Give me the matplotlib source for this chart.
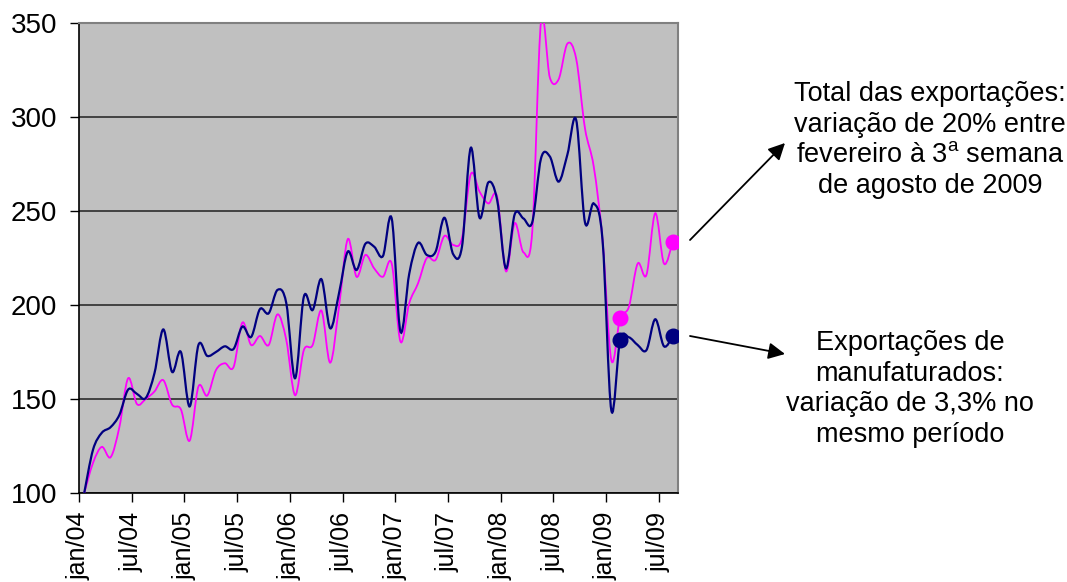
import matplotlib
matplotlib.use("Agg")
import matplotlib.pyplot as plt
import numpy as np
from matplotlib.path import Path
from matplotlib.patches import PathPatch

plt.rcParams["font.family"] = ["Liberation Sans", "DejaVu Sans"]
plt.rcParams["mathtext.fontset"] = "custom"
plt.rcParams["mathtext.rm"] = "Liberation Sans"

# monthly index from jan/04 (0) to aug/09 (67)
months = list(range(68))

manufaturados = [
    100, 123, 132, 135, 141.5, 155, 152.7, 150.5, 163.8, 187, 164.4, 175,
    146, 178.7, 172.9, 175, 178, 176.6, 188.5, 183, 197.8, 195.6, 208, 201,
    161, 204.4, 197.3, 213.7, 187.6, 206.2, 228.4, 218.6, 232.5, 231, 226, 246,
    185.8, 216.7, 233, 226.6, 228.4, 246.4, 227, 231, 283.6, 246.4, 265.2, 255.9,
    219.5, 248.2, 246, 244, 278, 279, 265.6, 280, 298.4, 244, 254, 234.6,
    144, 181.4, 182.8, 178.7, 176, 192.4, 178, 183.5,
]
total = [
    100, 116, 124.5, 119, 135, 161, 147.3, 150, 154, 160, 147, 144.5,
    127.8, 156.6, 151.8, 165.4, 169, 167, 190.6, 178.7, 183.5, 178.7, 195, 181.4,
    152, 176, 178.7, 197, 169.3, 199, 235, 215, 226.6, 219.5, 215, 222,
    180.5, 201, 211.5, 225, 224, 236.7, 231.9, 235.5, 269.5, 260.3, 254, 257.6,
    218, 243.5, 228, 239, 351, 321, 320, 339, 331, 294, 273.6, 234.6,
    170.7, 193, 199, 222, 216, 248.8, 222, 233.7,
]
marked = [61, 67]  # feb/09 and 3rd week of aug/09

tick_pos = list(range(0, 67, 6))
tick_labels = ["jan/04", "jul/04", "jan/05", "jul/05", "jan/06", "jul/06",
               "jan/07", "jul/07", "jan/08", "jul/08", "jan/09", "jul/09"]

x_offset = 0.6  # points sit a bit after the month tick


def smooth_path(xs, ys):
    # Excel-style smoothed line: cubic Bezier through every point
    p = np.column_stack([xs, ys]).astype(float)
    ext = np.vstack([p[0], p, p[-1]])
    verts = [p[0]]
    codes = [Path.MOVETO]
    for i in range(len(p) - 1):
        c1 = ext[i + 1] + (ext[i + 2] - ext[i]) / 6
        c2 = ext[i + 2] - (ext[i + 3] - ext[i + 1]) / 6
        verts += [c1, c2, p[i + 1]]
        codes += [Path.CURVE4] * 3
    return Path(verts, codes)


fig = plt.figure(figsize=(10.67, 5.82), dpi=100)
ax = fig.add_axes([0.074, 0.153, 0.5615, 0.8075])
ax.set_facecolor("#C0C0C0")

xs = np.array(months) + x_offset
for series, color, lw in [(total, "#FF00FF", 1.3), (manufaturados, "#000080", 1.6)]:
    ax.add_patch(PathPatch(smooth_path(xs, series), facecolor="none",
                           edgecolor=color, lw=lw, zorder=3))
    ax.plot(xs[marked], np.array(series)[marked], "o", color=color,
            markersize=10.5, zorder=4)

ax.set_xlim(0, 68.2)
ax.set_ylim(100, 350)
ax.set_yticks(range(100, 351, 50))
ax.yaxis.grid(True, color="#202020", lw=1.1)
ax.set_axisbelow(True)
ax.set_xticks(tick_pos)
ax.set_xticklabels(tick_labels, rotation=90, va="top", ha="center")
ax.tick_params(axis="y", labelsize=20, length=6.5, width=1, pad=9, direction="out")
ax.tick_params(axis="x", labelsize=18, length=6.5, width=1, pad=7, direction="out")
for side in ["top", "right"]:
    ax.spines[side].set_color("#808080")
    ax.spines[side].set_linewidth(1.5)
for side in ["left", "bottom"]:
    ax.spines[side].set_color("black")
    ax.spines[side].set_linewidth(1.2)

fig.text(930 / 1067, 1 - 140 / 582,
         "Total das exportações:\nvariação de 20% entre\nfevereiro à 3$^{\\rm a}$ semana\nde agosto de 2009",
         ha="center", va="center", fontsize=19.5, linespacing=1.22)
fig.text(910 / 1067, 1 - 389 / 582,
         "Exportações de\nmanufaturados:\nvariação de 3,3% no\nmesmo período",
         ha="center", va="center", fontsize=19.5, linespacing=1.22)

for start, end in [((690, 240), (785, 143)), ((690, 336), (785, 354))]:
    ax.annotate("", xy=(end[0] / 1067, 1 - end[1] / 582), xycoords="figure fraction",
                xytext=(start[0] / 1067, 1 - start[1] / 582), textcoords="figure fraction",
                arrowprops=dict(arrowstyle="-|>", color="black", lw=1.3,
                                mutation_scale=25, shrinkA=0, shrinkB=0))

fig.savefig("out.png", dpi=100)
